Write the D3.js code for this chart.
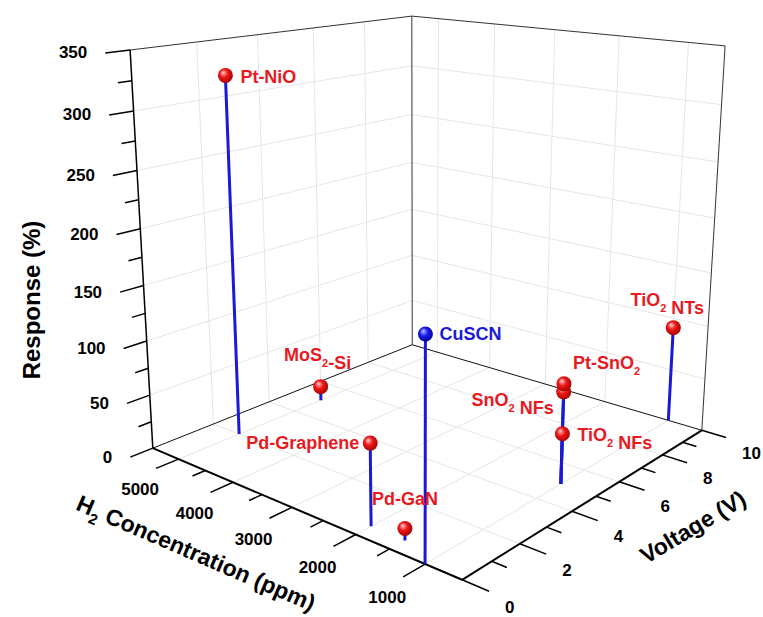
<!DOCTYPE html>
<html><head><meta charset="utf-8">
<script src="https://cdn.jsdelivr.net/npm/d3@7"></script>
<style>body{margin:0;background:#fff}</style>
</head><body><svg id="c" width="763" height="617"></svg>
<script>
const sensors = ["Pt-NiO","MoS2-Si","Pd-Graphene","Pd-GaN","CuSCN","Pt-SnO2","SnO2 NFs","TiO2 NFs","TiO2 NTs"];
const concentration = [5000,5000,2000,1500,1000,1000,1000,1000,1000];
const voltage = [2,5,0.5,0.5,0,5,5,5,10];
const response = [325,14,70,10,179,89,82,45,91];
const concTicks = [1000,2000,3000,4000,5000];
const concMinor = [1500,2500,3500,4500];
const voltTicks = [0,2,4,6,8,10];
const voltMinor = [1,3,5,7,9];
const respTicks = [0,50,100,150,200,250,300,350];
const respMinor = [25,75,125,175,225,275,325];

// ---- layout / styling ----
const labelPlace = [
 {anchor:"start",dx:15,dy:2},{anchor:"middle",dx:-3,dy:-32},{anchor:"end",dx:-11,dy:0},
 {anchor:"middle",dx:0,dy:-29},{anchor:"start",dx:14,dy:0},{anchor:"start",dx:9,dy:-21},
 {anchor:"end",dx:-10,dy:8},{anchor:"start",dx:15,dy:1},{anchor:"middle",dx:-6,dy:-28}
];
const ballColor = ["red","red","red","red","blue","red","red","red","red"];

const xS = d3.scaleLinear().domain([5500,500]).range([0,1]);
const yS = d3.scaleLinear().domain([0,10]).range([0,1]);
const zS = d3.scaleLinear().domain([0,350]).range([0,1]);

// box corner anchors in the picture -> perspective camera (DLT fit)
const anchors = [
 [[0,0,0],[153,448]],[[1,0,0],[462,580]],[[1,1,0],[702,430]],[[0,1,0],[412,345]],
 [[0,0,1],[130,50]],[[0,1,1],[412,16]],[[1,1,1],[725,46]]
];
function solve(A,b){const n=b.length;A=A.map((r,i)=>r.concat([b[i]]));
 for(let i=0;i<n;i++){let m=i;for(let k=i+1;k<n;k++)if(Math.abs(A[k][i])>Math.abs(A[m][i]))m=k;[A[i],A[m]]=[A[m],A[i]];
  for(let k=i+1;k<n;k++){const f=A[k][i]/A[i][i];for(let j=i;j<=n;j++)A[k][j]-=f*A[i][j];}}
 const x=new Array(n).fill(0);for(let i=n-1;i>=0;i--){let s=A[i][n];for(let j=i+1;j<n;j++)s-=A[i][j]*x[j];x[i]=s/A[i][i];}return x;}
const rows=[],rhs=[];
anchors.forEach(([[u,v,w],[x,y]])=>{rows.push([u,v,w,1,0,0,0,0,-x*u,-x*v,-x*w]);rhs.push(x);
 rows.push([0,0,0,0,u,v,w,1,-y*u,-y*v,-y*w]);rhs.push(y);});
const N=11,AtA=[],Atb=[];
for(let i=0;i<N;i++){AtA.push([]);let s=0;for(let r=0;r<rows.length;r++)s+=rows[r][i]*rhs[r];Atb.push(s);
 for(let j=0;j<N;j++){let t=0;for(let r=0;r<rows.length;r++)t+=rows[r][i]*rows[r][j];AtA[i].push(t);}}
const P=solve(AtA,Atb);
function proj(u,v,w){const d=P[8]*u+P[9]*v+P[10]*w+1;return [(P[0]*u+P[1]*v+P[2]*w+P[3])/d,(P[4]*u+P[5]*v+P[6]*w+P[7])/d];}

const svg=d3.select("#c");
const defs=svg.append("defs");
function grad(id,c0,c1,c2){const gr=defs.append("radialGradient").attr("id",id).attr("cx","45%").attr("cy","45%").attr("r","60%").attr("fx","35%").attr("fy","30%");
 gr.append("stop").attr("offset","0%").attr("stop-color",c0);gr.append("stop").attr("offset","45%").attr("stop-color",c1);gr.append("stop").attr("offset","100%").attr("stop-color",c2);}
grad("ball-red","#ffd0d0","#f01818","#a00000");
grad("ball-blue","#c8c8ff","#1c1cf0","#00008c");

const line=(pts)=>"M"+pts.map(p=>p.join(",")).join("L");
const g=svg.append("g");
const grid="#e6e6e6";
function seg(a,b,stroke,width){g.append("path").attr("d",line([proj(...a),proj(...b)])).attr("stroke",stroke).attr("stroke-width",width).attr("fill","none");}
// grids
voltTicks.slice(1,-1).forEach(t=>{seg([0,yS(t),0],[0,yS(t),1],grid,1);seg([0,yS(t),0],[1,yS(t),0],grid,1);});
respTicks.slice(1,-1).forEach(t=>{seg([0,0,zS(t)],[0,1,zS(t)],grid,1);seg([0,1,zS(t)],[1,1,zS(t)],grid,1);});
concTicks.forEach(t=>{seg([xS(t),1,0],[xS(t),1,1],grid,1);seg([xS(t),0,0],[xS(t),1,0],grid,1);});
// box
const edge="#333";
seg([0,0,1],[0,1,1],edge,1);seg([0,1,1],[1,1,1],edge,1);seg([0,1,0],[0,1,1],edge,1);seg([1,1,0],[1,1,1],edge,1);
seg([0,0,0],[0,1,0],"#111",1);seg([0,1,0],[1,1,0],"#111",1);
seg([0,0,0],[0,0,1],"#000",1.5);seg([0,0,0],[1,0,0],"#000",2);seg([1,0,0],[1,1,0],"#000",2);
const font="'Liberation Sans',Arial,sans-serif";
function txt(x,y,s,anchor,size){return g.append("text").attr("x",x).attr("y",y).attr("text-anchor",anchor).attr("dominant-baseline","central").attr("font-family",font).attr("font-weight","bold").attr("font-size",size).text(s);}
// ticks
respTicks.forEach(t=>{seg([0,0,zS(t)],[0,-0.07,zS(t)],"#000",1.5);const e=proj(0,-0.07,zS(t));txt(e[0]-18,e[1],t,"end",17);});
respMinor.forEach(t=>seg([0,0,zS(t)],[0,-0.04,zS(t)],"#000",1.5));
concTicks.forEach(t=>{seg([xS(t),0,0],[xS(t),-0.07,0],"#000",1.5);const e=proj(xS(t),-0.07,0);txt(e[0]+3,e[1]+21,t,"end",17);});
concMinor.forEach(t=>seg([xS(t),0,0],[xS(t),-0.04,0],"#000",1.5));
voltTicks.forEach(t=>{seg([1,yS(t),0],[1.07,yS(t),0],"#000",1.5);const e=proj(1.07,yS(t),0);txt(e[0]+16,e[1]+16,t,"start",17);});
voltMinor.forEach(t=>seg([1,yS(t),0],[1.04,yS(t),0],"#000",1.5));

// axis titles
function richText(sel,s,subSize){const parts=s.split(/(2)(?=[ \-]|$)/);
 parts.forEach(p=>{if(p==="2"){sel.append("tspan").attr("font-size",subSize).attr("dy",8).text("2");sel.append("tspan").attr("dy",-8).text("");}else if(p)sel.append("tspan").text(p);});}
g.append("text").attr("transform","translate(31,300) rotate(-90)").attr("text-anchor","middle").attr("dominant-baseline","central")
 .attr("font-family",font).attr("font-weight","bold").attr("font-size",24).text("Response (%)");
const ct=g.append("text").attr("transform","translate(196,553) rotate(23.4)").attr("text-anchor","middle").attr("dominant-baseline","central")
 .attr("font-family",font).attr("font-weight","bold").attr("font-size",23);
ct.append("tspan").text("H");ct.append("tspan").attr("font-size",15).attr("dy",9).text("2");ct.append("tspan").attr("dy",-9).text(" Concentration (ppm)");
g.append("text").attr("transform","translate(693,527) rotate(-31)").attr("text-anchor","middle").attr("dominant-baseline","central")
 .attr("font-family",font).attr("font-weight","bold").attr("font-size",23).text("Voltage (V)");

// stems & balls, back to front
const pts=sensors.map((s,i)=>{const u=xS(concentration[i]),v=yS(voltage[i]),w=zS(response[i]);
 return {i,s,base:proj(u,v,0),top:proj(u,v,w),depth:u-v};});
const order=pts.slice().sort((a,b)=>a.depth-b.depth||b.top[1]-a.top[1]);
const mg=svg.append("g");
order.forEach(p=>{mg.append("path").attr("d",line([p.base,p.top])).attr("stroke","#1a1ad6").attr("stroke-width",3).attr("fill","none");});
order.forEach(p=>{mg.append("circle").attr("cx",p.top[0]).attr("cy",p.top[1]).attr("r",7.5).attr("fill","url(#ball-"+ballColor[p.i]+")");});
// labels
const lg=svg.append("g");
pts.forEach(p=>{const L=labelPlace[p.i];
 const t=lg.append("text").attr("x",p.top[0]+L.dx).attr("y",p.top[1]+L.dy).attr("text-anchor",L.anchor).attr("dominant-baseline","central")
  .attr("font-family",font).attr("font-weight","bold").attr("font-size",18).attr("fill",ballColor[p.i]==="blue"?"#1a1ad6":"#e8191f");
 richText(t,p.s,11);});
</script></body></html>
